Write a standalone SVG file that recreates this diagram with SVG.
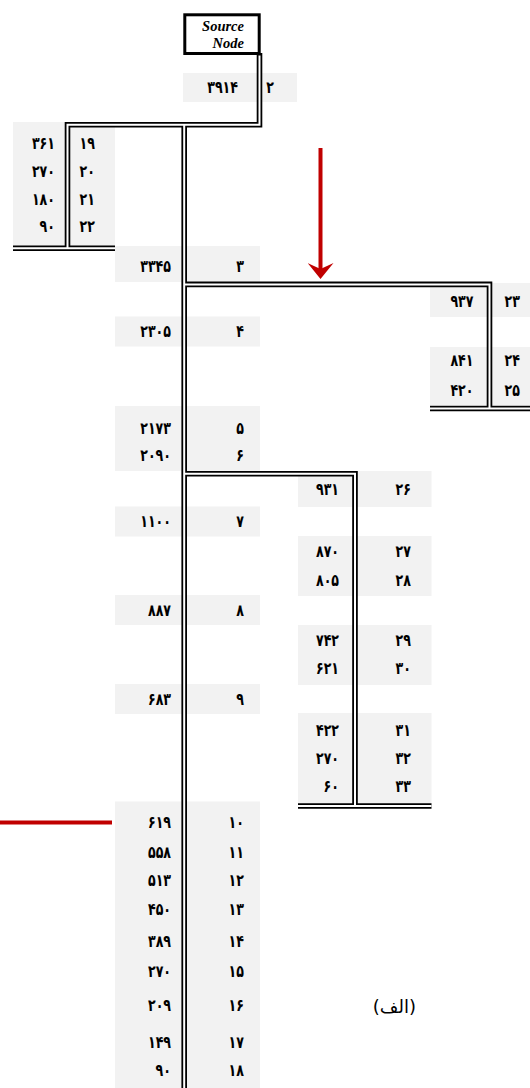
<svg xmlns="http://www.w3.org/2000/svg" width="530" height="1088" viewBox="0 0 530 1088">
<style>
.bg{fill:#F2F2F2}
.t{font-family:"DejaVu Sans Condensed","DejaVu Sans",sans-serif;font-weight:bold;font-size:14px;fill:#000;text-anchor:end;transform-box:fill-box;transform-origin:center;transform:scaleY(1.2)}
.pb{fill:none;stroke:#000;stroke-width:5.6;stroke-linejoin:miter}
.pw{fill:none;stroke:#fff;stroke-width:2;stroke-linejoin:miter}
.red{fill:none;stroke:#C00000;stroke-width:4}
.src{font-family:"Liberation Serif",serif;font-weight:bold;font-style:italic;font-size:14.5px;text-anchor:end;fill:#000}
.lbl{font-family:"DejaVu Sans",sans-serif;font-size:18px;text-anchor:end;fill:#000}
</style>
<defs>
<marker id="ah" markerUnits="userSpaceOnUse" viewBox="0 0 16 26" markerWidth="16" markerHeight="26" refX="8" refY="13" orient="auto">
<path d="M0,0 L16,13 L0,26 L6,13 Z" fill="#C00000"/>
</marker>
</defs>
<rect width="530" height="1088" fill="#fff"/>
<g id="backgrounds">
<rect class="bg" x="183" y="73" width="114" height="29"/>
<rect class="bg" x="13" y="122" width="102" height="124"/>
<rect class="bg" x="115" y="246" width="145" height="36"/>
<rect class="bg" x="115" y="316.5" width="145" height="30"/>
<rect class="bg" x="115" y="406" width="145" height="65"/>
<rect class="bg" x="115" y="506.5" width="145" height="30"/>
<rect class="bg" x="115" y="595" width="145" height="30"/>
<rect class="bg" x="115" y="684" width="145" height="30"/>
<rect class="bg" x="115" y="801.5" width="145" height="287"/>
<rect class="bg" x="430" y="283" width="100" height="34"/>
<rect class="bg" x="430" y="347" width="100" height="58"/>
<rect class="bg" x="298" y="471" width="133.5" height="36"/>
<rect class="bg" x="298" y="536" width="133.5" height="60"/>
<rect class="bg" x="298" y="625" width="133.5" height="60"/>
<rect class="bg" x="298" y="713" width="133.5" height="91"/>
</g>
<g id="connectors">
<path class="pb" d="M259.5,53 V124.8 H67.5 V248.3"/>
<path class="pb" d="M13,248.3 H115"/>
<path class="pb" d="M184.2,124.8 V1090"/>
<path class="pb" d="M184.2,284.4 H489.5 V408.5"/>
<path class="pb" d="M430,408.5 H530"/>
<path class="pb" d="M184.2,473.8 H355 V806"/>
<path class="pb" d="M298,806 H431.5"/>
<path class="pw" d="M259.5,55.5 V124.8 H67.5 V248.3"/>
<path class="pw" d="M13,248.3 H115"/>
<path class="pw" d="M184.2,124.8 V1090"/>
<path class="pw" d="M184.2,284.4 H489.5 V408.5"/>
<path class="pw" d="M430,408.5 H530"/>
<path class="pw" d="M184.2,473.8 H355 V806"/>
<path class="pw" d="M298,806 H431.5"/>
<line class="red" x1="320.5" y1="148" x2="320.5" y2="271" marker-end="url(#ah)"/>
<line class="red" x1="0" y1="822.5" x2="112" y2="822.5"/>
</g>
<g id="source-node">
<rect x="184.8" y="14.8" width="74.4" height="38.7" fill="#fff" stroke="#000" stroke-width="3"/>
<text class="src" x="244" y="31">Source</text>
<text class="src" x="244" y="48">Node</text>
</g>
<g id="node-2"><text class="t" x="238" y="92">۳۹۱۴</text><text class="t" x="274" y="92">۲</text></g>
<g id="node-19"><text class="t" x="55" y="148">۳۶۱</text><text class="t" x="95" y="148">۱۹</text></g>
<g id="node-20"><text class="t" x="55" y="176.5">۲۷۰</text><text class="t" x="95" y="176.5">۲۰</text></g>
<g id="node-21"><text class="t" x="55" y="204">۱۸۰</text><text class="t" x="95" y="204">۲۱</text></g>
<g id="node-22"><text class="t" x="55" y="231.5">۹۰</text><text class="t" x="95" y="231.5">۲۲</text></g>
<g id="node-3"><text class="t" x="171" y="271">۳۳۴۵</text><text class="t" x="244" y="271">۳</text></g>
<g id="node-4"><text class="t" x="171" y="336">۲۳۰۵</text><text class="t" x="244" y="336">۴</text></g>
<g id="node-5"><text class="t" x="171" y="433">۲۱۷۳</text><text class="t" x="244" y="433">۵</text></g>
<g id="node-6"><text class="t" x="171" y="460">۲۰۹۰</text><text class="t" x="244" y="460">۶</text></g>
<g id="node-7"><text class="t" x="171" y="526">۱۱۰۰</text><text class="t" x="244" y="526">۷</text></g>
<g id="node-8"><text class="t" x="171" y="615">۸۸۷</text><text class="t" x="244" y="615">۸</text></g>
<g id="node-9"><text class="t" x="171" y="704">۶۸۳</text><text class="t" x="244" y="704">۹</text></g>
<g id="node-10"><text class="t" x="171" y="827">۶۱۹</text><text class="t" x="244" y="827">۱۰</text></g>
<g id="node-11"><text class="t" x="171" y="857">۵۵۸</text><text class="t" x="244" y="857">۱۱</text></g>
<g id="node-12"><text class="t" x="171" y="885">۵۱۳</text><text class="t" x="244" y="885">۱۲</text></g>
<g id="node-13"><text class="t" x="171" y="914">۴۵۰</text><text class="t" x="244" y="914">۱۳</text></g>
<g id="node-14"><text class="t" x="171" y="946">۳۸۹</text><text class="t" x="244" y="946">۱۴</text></g>
<g id="node-15"><text class="t" x="171" y="976">۲۷۰</text><text class="t" x="244" y="976">۱۵</text></g>
<g id="node-16"><text class="t" x="171" y="1010">۲۰۹</text><text class="t" x="244" y="1010">۱۶</text></g>
<g id="node-17"><text class="t" x="171" y="1047">۱۴۹</text><text class="t" x="244" y="1047">۱۷</text></g>
<g id="node-18"><text class="t" x="171" y="1075">۹۰</text><text class="t" x="244" y="1075">۱۸</text></g>
<g id="node-23"><text class="t" x="473.5" y="306">۹۳۷</text><text class="t" x="520" y="306">۲۳</text></g>
<g id="node-24"><text class="t" x="473.5" y="365">۸۴۱</text><text class="t" x="520" y="365">۲۴</text></g>
<g id="node-25"><text class="t" x="473.5" y="395">۴۲۰</text><text class="t" x="520" y="395">۲۵</text></g>
<g id="node-26"><text class="t" x="339" y="494">۹۳۱</text><text class="t" x="411" y="494">۲۶</text></g>
<g id="node-27"><text class="t" x="339" y="556.5">۸۷۰</text><text class="t" x="411" y="556.5">۲۷</text></g>
<g id="node-28"><text class="t" x="339" y="585.5">۸۰۵</text><text class="t" x="411" y="585.5">۲۸</text></g>
<g id="node-29"><text class="t" x="339" y="645.5">۷۴۲</text><text class="t" x="411" y="645.5">۲۹</text></g>
<g id="node-30"><text class="t" x="339" y="673.5">۶۲۱</text><text class="t" x="411" y="673.5">۳۰</text></g>
<g id="node-31"><text class="t" x="339" y="735">۴۲۲</text><text class="t" x="411" y="735">۳۱</text></g>
<g id="node-32"><text class="t" x="339" y="763">۲۷۰</text><text class="t" x="411" y="763">۳۲</text></g>
<g id="node-33"><text class="t" x="339" y="791">۶۰</text><text class="t" x="411" y="791">۳۳</text></g>
<g id="caption"><text class="lbl" x="416" y="1013">(الف)</text></g>
</svg>
